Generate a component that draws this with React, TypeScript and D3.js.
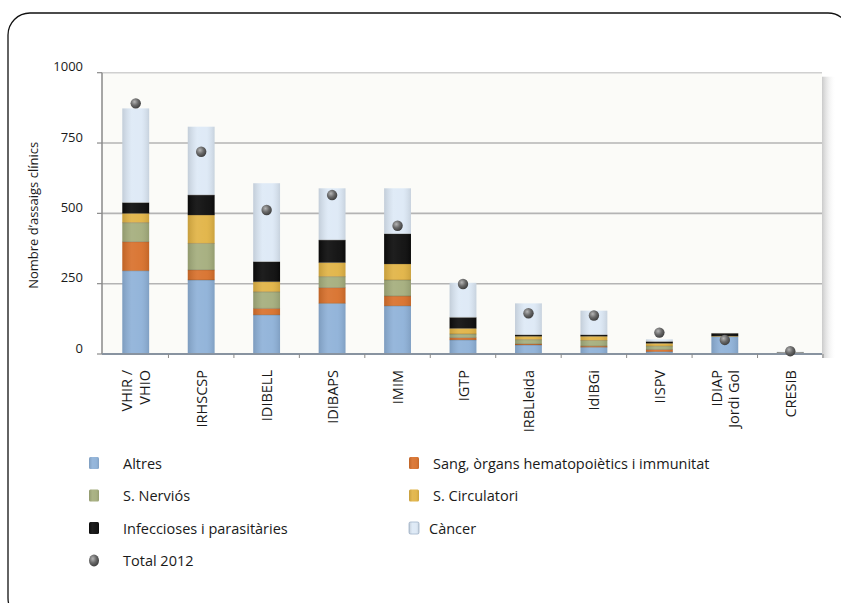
import React from "react";
import * as d3 from "d3";

const categories = ["VHIR / VHIO", "IRHSCSP", "IDIBELL", "IDIBAPS", "IMIM", "IGTP", "IRBLleida", "IdIBGi", "IISPV", "IDIAP Jordi Gol", "CRESIB"];
const categoryLines = [["VHIR /", "VHIO"], ["IRHSCSP"], ["IDIBELL"], ["IDIBAPS"], ["IMIM"], ["IGTP"], ["IRBLleida"], ["IdIBGi"], ["IISPV"], ["IDIAP", "Jordi Gol"], ["CRESIB"]];

const seriesNames = ["Altres", "Sang, òrgans hematopoiètics i immunitat", "S. Nerviós", "S. Circulatori", "Infeccioses i parasitàries", "Càncer"];
const altres = [296, 263, 139, 180, 171, 50, 32, 24, 8, 62, 4];
const sang = [103, 36, 23, 56, 35, 8, 4, 4, 8, 0, 0];
const nervios = [68, 94, 59, 39, 57, 13, 15, 20, 12, 0, 1];
const circulatori = [33, 101, 36, 50, 57, 20, 12, 15, 10, 2, 0];
const infeccioses = [38, 71, 71, 80, 107, 39, 5, 5, 6, 9, 0];
const cancer = [335, 243, 279, 184, 162, 123, 112, 86, 8, 0, 3];
const total2012 = [891, 719, 512, 565, 456, 249, 145, 137, 76, 50, 10];
const yTicks = [0, 250, 500, 750, 1000];

const seriesColors = ["#8eb1d8", "#d8702b", "#a4ad7c", "#e1b344", "#0b0b0b", "#dde9f6"];

const FONT = "'Open Sans', 'Noto Sans', sans-serif";

export default function App() {
  const series = [altres, sang, nervios, circulatori, infeccioses, cancer];
  const rows = categories.map((c, i) => {
    const r: any = { cat: c };
    seriesNames.forEach((s, k) => (r[s] = series[k][i]));
    return r;
  });
  const stacked = d3.stack().keys(seriesNames)(rows);

  const x = d3.scaleBand().domain(categories).range([103, 823]).padding(0);
  const bw = x.bandwidth() * 0.41;
  const y = d3.scaleLinear().domain([0, 1000]).range([354, 72.7]);

  const plotL = 102, plotR = 822, plotT = y(1000), plotB = y(0);

  const legendLeft = [
    { name: "Altres", color: seriesColors[0], type: "rect" },
    { name: "S. Nerviós", color: seriesColors[2], type: "rect" },
    { name: "Infeccioses i parasitàries", color: seriesColors[4], type: "rect" },
    { name: "Total 2012", color: "#555", type: "dot" },
  ];
  const legendRight = [
    { name: seriesNames[1], color: seriesColors[1], type: "rect" },
    { name: "S. Circulatori", color: seriesColors[3], type: "rect" },
    { name: "Càncer", color: seriesColors[5], type: "rect" },
  ];
  const legRowY = (i: number) => 463 + i * 32.5;

  return (
    <svg width={841} height={603} style={{ position: "absolute", left: 0, top: 0, background: "#fff" }} fontFamily={FONT}>
      <defs>
        <linearGradient id="barShade" x1="0" x2="1" y1="0" y2="0">
          <stop offset="0" stopColor="#000" stopOpacity={0.12} />
          <stop offset="0.35" stopColor="#fff" stopOpacity={0.08} />
          <stop offset="0.7" stopColor="#fff" stopOpacity={0.05} />
          <stop offset="1" stopColor="#000" stopOpacity={0.1} />
        </linearGradient>
        <radialGradient id="dotGrad" cx="0.38" cy="0.35" r="0.7">
          <stop offset="0" stopColor="#b5b5b5" />
          <stop offset="0.5" stopColor="#6a6a6a" />
          <stop offset="1" stopColor="#3a3a3a" />
        </radialGradient>
        <linearGradient id="shadowR" x1="0" x2="1" y1="0" y2="0">
          <stop offset="0" stopColor="#bdbdbd" stopOpacity={0.8} />
          <stop offset="1" stopColor="#ffffff" stopOpacity={0} />
        </linearGradient>
      </defs>

      {/* outer frame */}
      <rect x={8} y={13} width={842} height={607} rx={22} ry={22} fill="none" stroke="#111" strokeWidth={1.3} />

      {/* plot background */}
      <rect x={plotL} y={plotT} width={plotR - plotL} height={plotB - plotT} fill="#fbfbf8" />
      <rect x={plotR} y={plotT + 4} width={14} height={plotB - plotT} fill="url(#shadowR)" />

      {/* gridlines */}
      {yTicks.filter((t) => t > 0).map((t) => (
        <line key={t} x1={plotL} x2={plotR} y1={y(t)} y2={y(t)} stroke={t === 1000 ? "#d0d0d0" : "#b4b4b4"} strokeWidth={1.6} />
      ))}

      {/* y axis */}
      <line x1={plotL} x2={plotL} y1={plotT} y2={plotB} stroke="#8a8a8a" strokeWidth={1.5} />
      {yTicks.map((t) => (
        <g key={t}>
          <line x1={plotL - 5} x2={plotL} y1={y(t)} y2={y(t)} stroke="#8a8a8a" strokeWidth={1.2} />
          <text x={83} y={y(t)} dy="-0.1em" textAnchor="end" fontSize={13} fill="#1a1a1a">
            {t}
          </text>
        </g>
      ))}
      <text transform={`translate(33,${(plotT + plotB) / 2 + 2}) rotate(-90)`} textAnchor="middle" dominantBaseline="central" fontSize={13} fill="#1a1a1a">
        Nombre d’assaigs clínics
      </text>

      {/* bars */}
      {categories.map((c, i) => {
        const cx = (x(c) as number) + x.bandwidth() / 2;
        const x0 = cx - bw / 2;
        const top = y(stacked[stacked.length - 1][i][1]);
        return (
          <g key={c}>
            {stacked.map((s, k) => {
              const d = s[i];
              const h = y(d[0]) - y(d[1]);
              if (h <= 0) return null;
              return <rect key={k} x={x0} y={y(d[1])} width={bw} height={h} fill={seriesColors[k]} />;
            })}
            {stacked.slice(0, 5).map((s, k) => {
              const d = s[i];
              if (d[1] - d[0] <= 0) return null;
              return <line key={"s" + k} x1={x0} x2={x0 + bw} y1={y(d[1])} y2={y(d[1])} stroke="#3c3420" strokeOpacity={0.35} strokeWidth={0.8} />;
            })}
            <rect x={x0} y={top} width={bw} height={plotB - top} fill="url(#barShade)" />
          </g>
        );
      })}

      {/* x axis */}
      <line x1={plotL} x2={plotR} y1={plotB} y2={plotB} stroke="#8893a0" strokeWidth={2} />
      {categories.map((c) => (
        <line key={c} x1={(x(c) as number) + x.bandwidth()} x2={(x(c) as number) + x.bandwidth()} y1={plotB} y2={plotB + 4} stroke="#8a8a8a" strokeWidth={1} />
      ))}

      {/* total dots */}
      {categories.map((c, i) => (
        <circle key={c} cx={(x(c) as number) + x.bandwidth() / 2} cy={y(total2012[i])} r={5.2} fill="url(#dotGrad)" />
      ))}

      {/* x labels */}
      {categories.map((c, i) => {
        const cx = (x(c) as number) + x.bandwidth() / 2;
        const lines = categoryLines[i];
        const lh = 17.5;
        return (
          <g key={c}>
            {lines.map((ln, j) => (
              <text
                key={j}
                transform={`translate(${cx + (j - (lines.length - 1) / 2) * lh},370) rotate(-90)`}
                textAnchor="end"
                dominantBaseline="central"
                fontSize={14.5}
                fill="#1a1a1a"
              >
                {ln}
              </text>
            ))}
          </g>
        );
      })}

      {/* legend */}
      {[legendLeft, legendRight].map((col, ci) =>
        col.map((it, ri) => {
          const mx = ci === 0 ? 94 : 414;
          const tx = ci === 0 ? 123 : 433;
          const cy = legRowY(ri);
          return (
            <g key={it.name}>
              {it.type === "rect" ? (
                <g>
                  <rect x={mx - 5} y={cy - 6} width={10} height={12} rx={1.5} fill={it.color} stroke={it.color === "#dde9f6" ? "#9fb3cc" : "none"} strokeWidth={0.8} />
                  <rect x={mx - 5} y={cy - 6} width={10} height={12} rx={1.5} fill="url(#barShade)" />
                </g>
              ) : (
                <ellipse cx={mx} cy={cy} rx={5} ry={6} fill="url(#dotGrad)" />
              )}
              <text x={ci === 1 && ri === 2 ? 429 : tx} y={cy} dominantBaseline="central" fontSize={14.5} fill="#1a1a1a">
                {it.name}
              </text>
            </g>
          );
        })
      )}
    </svg>
  );
}
